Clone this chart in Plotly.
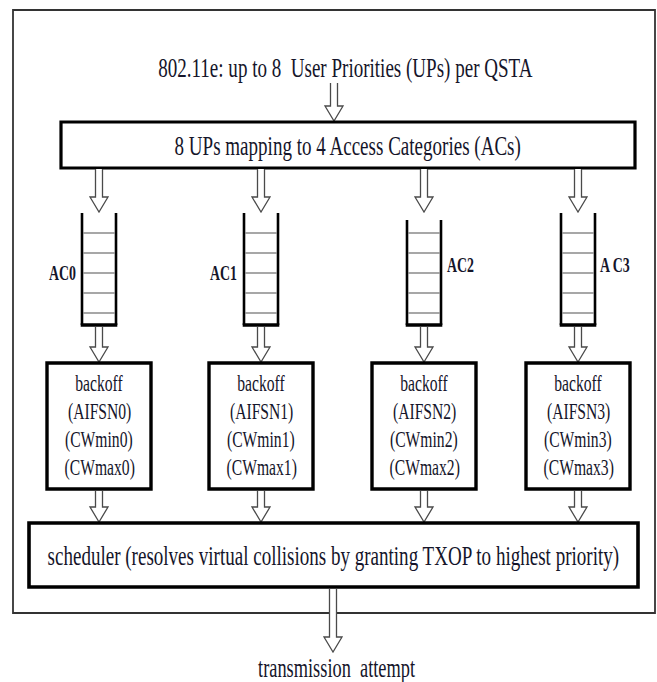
import json
import plotly.graph_objects as go

# ---- content ----
title_text = "802.11e: up to 8  User Priorities (UPs) per QSTA"
mapping_text = "8 UPs mapping to 4 Access Categories (ACs)"
scheduler_text = "scheduler (resolves virtual collisions by granting TXOP to highest priority)"
output_text = "transmission  attempt"
ac_labels = ["AC0", "AC1", "AC2", "A C3"]
backoff_lines = [
    ["backoff", "(AIFSN0)", "(CWmin0)", "(CWmax0)"],
    ["backoff", "(AIFSN1)", "(CWmin1)", "(CWmax1)"],
    ["backoff", "(AIFSN2)", "(CWmin2)", "(CWmax2)"],
    ["backoff", "(AIFSN3)", "(CWmin3)", "(CWmax3)"],
]
queue_slots = 5

# ---- layout geometry (pixels, y downward) ----
W, H = 657, 682
col_x = [99, 261, 424, 578]
queue_half = 17
queue_top = [213, 213, 220, 213]
queue_bottom = 325
slot_y0, slot_dy = 233, 20
label_pos = [(78, 273, "right"), (239, 273, "right"), (445, 265, "left"), (598, 265, "left")]
box_half = 52
backoff_top, backoff_bottom = 363, 489
backoff_text_y = [383, 411, 439, 467]
outer = (13, 10, 655, 613)
map_box = (61, 122, 635, 168)
sched_box = (29, 523, 638, 587)

FONT = "Liberation Serif, Times New Roman, serif"
TXT = "#15152a"
SQUEEZE = 0.68  # the reference type is a horizontally condensed Times

fig = go.Figure()
shapes = []
annotations = []
squeeze = []


def rect(x0, y0, x1, y1, w, color="black"):
    shapes.append(dict(type="rect", x0=x0, y0=y0, x1=x1, y1=y1,
                       line=dict(color=color, width=w), fillcolor="rgba(0,0,0,0)",
                       layer="above"))


def line(x0, y0, x1, y1, w, color="black"):
    shapes.append(dict(type="line", x0=x0, y0=y0, x1=x1, y1=y1,
                       line=dict(color=color, width=w), layer="above"))


def arrow(x, y0, y1, sw=7, hw=18, hh=15):
    p = (f"M {x - sw/2},{y0} L {x - sw/2},{y1 - hh} L {x - hw/2},{y1 - hh} "
         f"L {x},{y1} L {x + hw/2},{y1 - hh} L {x + sw/2},{y1 - hh} L {x + sw/2},{y0}")
    shapes.append(dict(type="path", path=p, line=dict(color="#4a4a4a", width=1.3),
                       fillcolor="white", layer="above"))


def text(x, y, s, size, bold=False, anchor="center", sx=SQUEEZE):
    annotations.append(dict(x=x, y=y, text=f"<b>{s}</b>" if bold else s,
                            showarrow=False, xanchor=anchor, yanchor="middle",
                            font=dict(family=FONT, size=size, color=TXT)))
    squeeze.append([sx, anchor])


# outer frame
rect(*outer, 1.8, "#333")
# title + arrow
text(345, 67, title_text, 28)
arrow(334, 83, 121)
# mapping box
rect(*map_box, 3.2)
text(347, 145, mapping_text, 28)

for i, cx in enumerate(col_x):
    arrow(cx, map_box[3] + 1, 212)
    l, r = cx - queue_half, cx + queue_half
    line(l, queue_top[i], l, queue_bottom, 2.6)
    line(r, queue_top[i], r, queue_bottom, 2.6)
    line(l - 1.3, queue_bottom, r + 1.3, queue_bottom, 3.4)
    for k in range(queue_slots):
        yy = slot_y0 + k * slot_dy
        line(l + 1.3, yy, r - 1.3, yy, 1.3, "#777")
    lx, ly, side = label_pos[i]
    text(lx, ly, ac_labels[i], 21, bold=True, anchor=side, sx=0.66)
    arrow(cx, queue_bottom + 2, backoff_top - 1)
    rect(cx - box_half, backoff_top, cx + box_half, backoff_bottom, 3.4)
    for s, yy in zip(backoff_lines[i], backoff_text_y):
        text(cx, yy, s, 23)
    arrow(cx, backoff_bottom + 2, sched_box[1] - 1)

# scheduler
rect(*sched_box, 3.6)
text(333, 555, scheduler_text, 28)
arrow(333, sched_box[3] + 2, 652)
text(336, 668, output_text, 27)

fig.update_layout(
    width=W, height=H, margin=dict(l=0, r=0, t=0, b=0),
    paper_bgcolor="white", plot_bgcolor="white",
    xaxis=dict(range=[0, W], visible=False, fixedrange=True),
    yaxis=dict(range=[H, 0], visible=False, fixedrange=True),
    shapes=shapes, annotations=annotations, showlegend=False,
)

post = """
document.body.style.margin='0';
document.body.style.overflow='hidden';
var gd=document.getElementById('{plot_id}');
var SX=%s;
gd.querySelectorAll('g.annotation').forEach(function(g){
  var i=+g.getAttribute('data-index');
  var t=g.querySelector('text.annotation-text');
  if(!t||!SX[i])return;
  var bb=t.getBBox();
  var s=SX[i][0], a=SX[i][1];
  var ox=a==='left'?bb.x:(a==='right'?bb.x+bb.width:bb.x+bb.width/2);
  var prev=t.getAttribute('transform')||'';
  t.setAttribute('transform',prev+' matrix('+s+',0,0,1,'+(ox*(1-s))+',0)');
});
""" % json.dumps(squeeze)

fig.write_html("out.html", config={"displayModeBar": False, "staticPlot": True},
               post_script=post)
